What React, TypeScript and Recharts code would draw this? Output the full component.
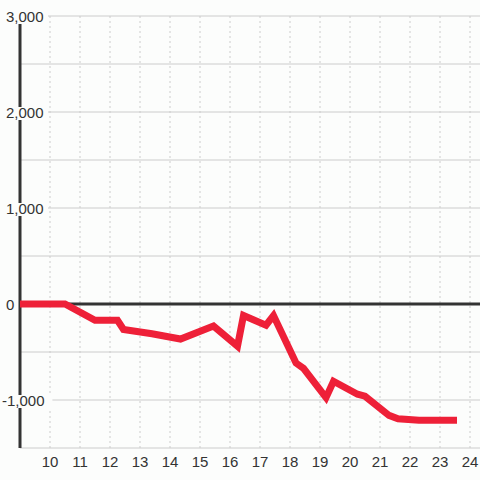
import {
  LineChart,
  Line,
  XAxis,
  YAxis,
  CartesianGrid,
  ReferenceLine,
} from 'recharts';

// hour of day vs. cumulative change
const hours = [
  9, 10.5, 11.5, 12.25, 12.45, 13.4, 14.35, 15.45, 16.25, 16.45, 17.2, 17.45,
  18.2, 18.45, 19.2, 19.45, 20.25, 20.5, 21.3, 21.6, 22.3, 23.45,
];
const values = [
  0, 0, -170, -170, -265, -310, -365, -230, -440, -120, -220, -120, -615, -670,
  -975, -805, -940, -960, -1160, -1195, -1210, -1210,
];
const xTicks = [10, 11, 12, 13, 14, 15, 16, 17, 18, 19, 20, 21, 22, 23, 24];
const yTicks = [-1500, -1000, -500, 0, 500, 1000, 1500, 2000, 2500, 3000];

const chartData = hours.map((h, i) => ({ hour: h, value: values[i] }));

const BG = '#fcfdfc';
const FONT = '"Liberation Sans", Arial, sans-serif';

const YTick = (props: any) => {
  const { y, payload } = props;
  const v = payload.value;
  if (v % 1000 !== 0) return null;
  const label = v.toLocaleString('en-US');
  const x = v < 0 ? 2 : 6;
  const w = label.length * 8.4;
  return (
    <g>
      {v !== 0 && <rect x={x} y={y - 5} width={w} height={13} fill={BG} />}
      <text x={x} y={y + 6.3} fill='#333' fontSize={15} fontFamily={FONT} textAnchor='start'>
        {label}
      </text>
    </g>
  );
};

const XTick = (props: any) => {
  const { x, payload } = props;
  return (
    <text x={x} y={467} fill='#333' fontSize={15} fontFamily={FONT} textAnchor='middle'>
      {payload.value}
    </text>
  );
};

export default function App() {
  return (
    <div style={{ position: 'absolute', left: 0, top: 0, width: 480, height: 480, background: BG }}>
      <LineChart
        width={480}
        height={480}
        data={chartData}
        margin={{ top: 16, right: 0, bottom: 0, left: 0 }}
      >
        <CartesianGrid stroke='#cccccc' vertical={false} />
        {xTicks.map((t) => (
          <ReferenceLine
            key={t}
            x={t}
            stroke='#cccccc'
            strokeDasharray='2 3'
            strokeWidth={1}
          />
        ))}
        <XAxis
          dataKey='hour'
          type='number'
          domain={[9, 24.333]}
          ticks={xTicks}
          axisLine={false}
          tickLine={false}
          height={32}
          tick={<XTick />}
          allowDataOverflow
        />
        <YAxis
          type='number'
          domain={[-1500, 3000]}
          ticks={yTicks}
          width={20}
          axisLine={{ stroke: '#333', strokeWidth: 3 }}
          tickLine={false}
          tick={<YTick />}
          interval={0}
        />
        <ReferenceLine y={0} stroke='#333' strokeWidth={3} />
        <Line
          dataKey='value'
          stroke='#ee2038'
          strokeWidth={7}
          strokeLinecap='square'
          dot={false}
          isAnimationActive={false}
          zIndex={600}
        />
      </LineChart>
    </div>
  );
}
